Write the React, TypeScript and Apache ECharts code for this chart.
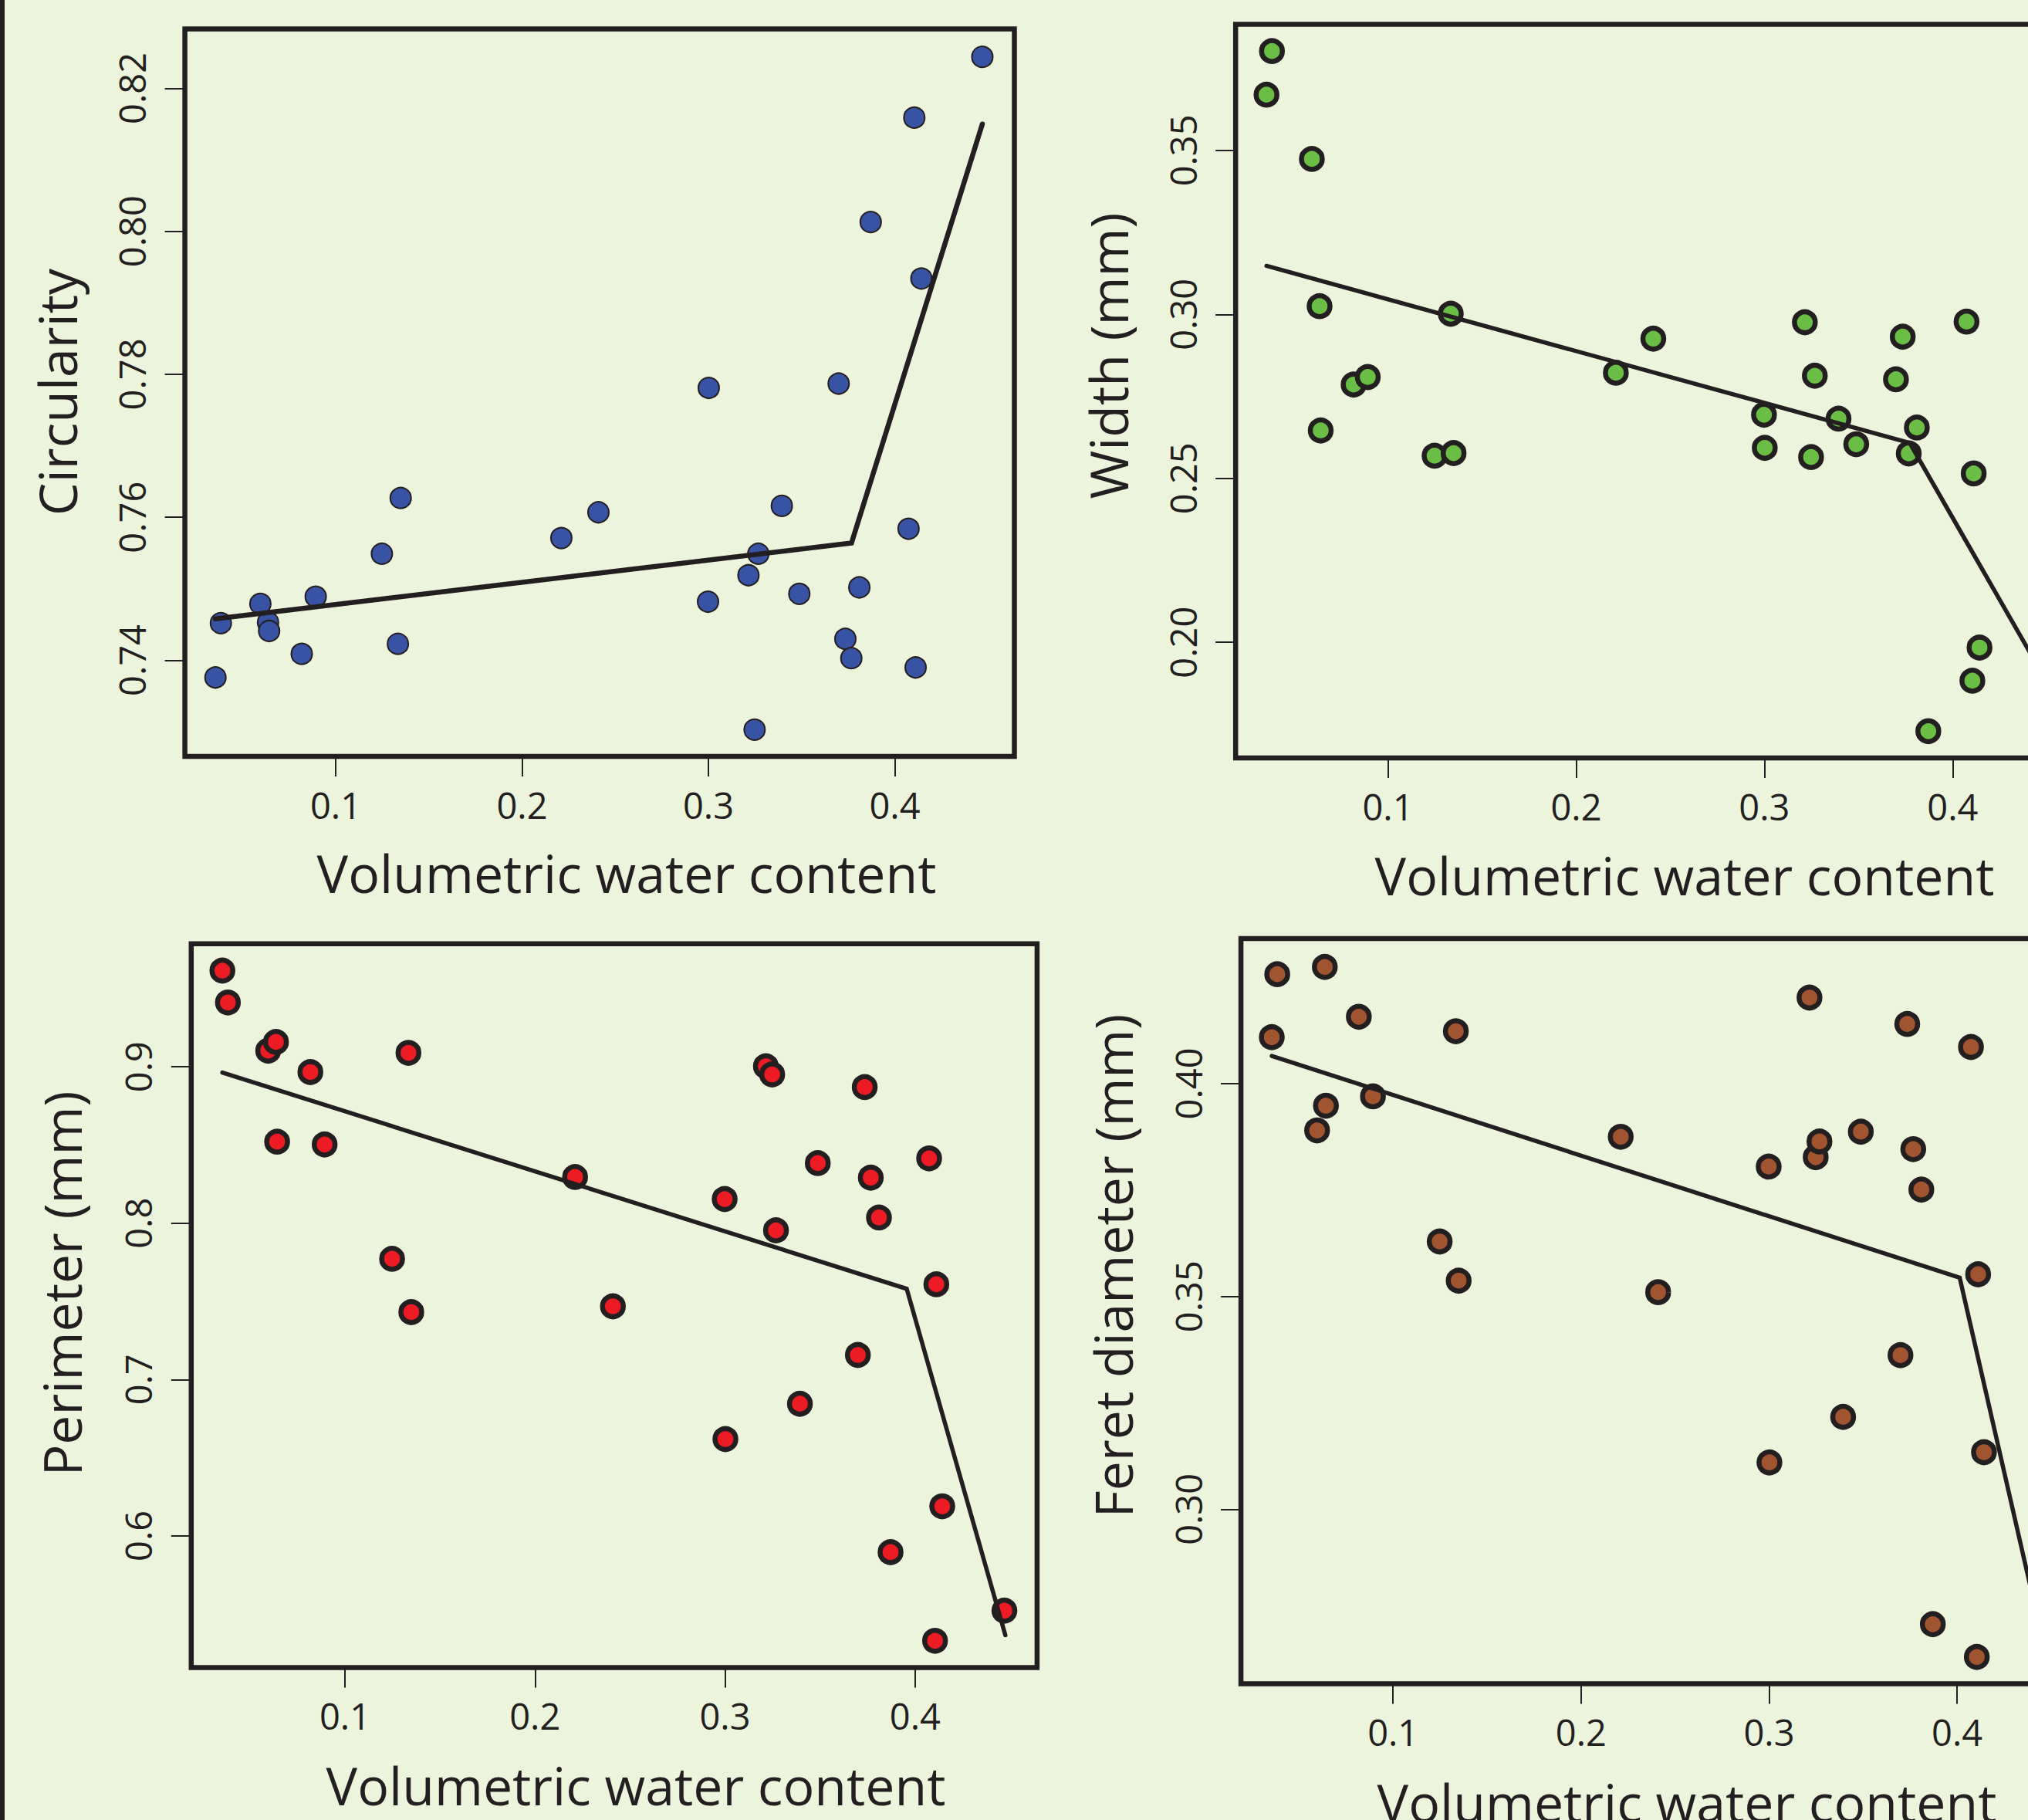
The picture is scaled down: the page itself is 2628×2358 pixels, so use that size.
import React, { useEffect, useRef } from "react";
import * as echarts from "echarts";

// ---------- data ----------
const waterContent = [
  0.0355, 0.0384, 0.0596, 0.0637, 0.0643, 0.0818, 0.0893, 0.1248, 0.1334, 0.1349,
  0.2211, 0.241, 0.2998, 0.3002, 0.3215, 0.3248, 0.3268, 0.3394, 0.3488, 0.3699,
  0.3735, 0.3767, 0.381, 0.3871, 0.4074, 0.4105, 0.4112, 0.4143, 0.447,
];
const circularity = [
  0.7376, 0.7452, 0.7479, 0.7453, 0.7441, 0.7409, 0.7489, 0.7549, 0.7423, 0.7627,
  0.7571, 0.7607, 0.7482, 0.7781, 0.7519, 0.7303, 0.7549, 0.7616, 0.7493, 0.7787,
  0.743, 0.7403, 0.7502, 0.8013, 0.7584, 0.8159, 0.739, 0.7934, 0.8244,
];
const widthMm = [
  0.367, 0.3803, 0.3474, 0.3025, 0.2646, 0.2786, 0.2809, 0.2569, 0.3002, 0.2577,
  0.2822, 0.2926, 0.2694, 0.2593, 0.2976, 0.2565, 0.2813, 0.2682, 0.2604, 0.2802,
  0.2932, 0.2576, 0.2655, 0.1729, 0.2978, 0.1883, 0.2515, 0.1984, 0.19,
];
const perimeterMm = [
  0.9615, 0.9411, 0.9103, 0.9159, 0.8521, 0.8966, 0.8503, 0.7772, 0.9089, 0.7431,
  0.8295, 0.7468, 0.8154, 0.6619, 0.9003, 0.8951, 0.7954, 0.6845, 0.8384, 0.7157,
  0.887, 0.8291, 0.8036, 0.5896, 0.8414, 0.5329, 0.7609, 0.6189, 0.5522,
];
const feretMm = [
  0.4109, 0.4257, 0.389, 0.4274, 0.3948, 0.4157, 0.397, 0.3629, 0.4123, 0.3537,
  0.3875, 0.351, 0.3805, 0.311, 0.4202, 0.3827, 0.3864, 0.3217, 0.3887, 0.3362,
  0.414, 0.3846, 0.3751, 0.273, 0.4086, 0.2653, 0.3552, 0.3134, 0.27,
];

// segmented regression fits (breakpoint lines)
const fitCircularityX = [0.0355, 0.3768, 0.447];
const fitCircularityY = [0.7458, 0.7564, 0.815];
const fitWidthX = [0.0355, 0.3772, 0.447];
const fitWidthY = [0.3148, 0.2608, 0.191];
const fitPerimeterX = [0.0355, 0.3956, 0.4475];
const fitPerimeterY = [0.8963, 0.758, 0.5365];
const fitFeretX = [0.0355, 0.4014, 0.447];
const fitFeretY = [0.4065, 0.3544, 0.2664];

// tick labels
const xTicks = [0.1, 0.2, 0.3, 0.4];
const circularityTicks = [0.74, 0.76, 0.78, 0.8, 0.82];
const widthTicks = [0.2, 0.25, 0.3, 0.35];
const perimeterTicks = [0.6, 0.7, 0.8, 0.9];
const feretTicks = [0.3, 0.35, 0.4];

const xTitle = "Volumetric water content";

// ---------- styles / layout ----------
const BG = "#ecf5dc";
const DARK = "#231f20";
const FONT = "'Open Sans', 'Noto Sans', sans-serif";
const X_MIN = 0.0191;
const X_MAX = 0.4642;

const PANELS = [
  {
    grid: { left: 239.6, top: 37.6, width: 1074.9, height: 942.4 },
    yMin: 0.72656, yMax: 0.82829, y: circularity, fitX: fitCircularityX, fitY: fitCircularityY,
    ticks: circularityTicks, dec: 2, fill: "#3953a4", border: 2, size: 27, lineW: 6.5,
    yName: "Circularity", xPos: [812, 1130], yPos: [73, 508],
  },
  {
    grid: { left: 1601.2, top: 31.6, width: 1085.7, height: 950.4 },
    yMin: 0.16474, yMax: 0.38843, y: widthMm, fitX: fitWidthX, fitY: fitWidthY,
    ticks: widthTicks, dec: 2, fill: "#6abd45", border: 6.5, size: 27, lineW: 5.5,
    yName: "Width (mm)", xPos: [2183, 1133], yPos: [1435, 461],
  },
  {
    grid: { left: 247.8, top: 1222.8, width: 1096.1, height: 937.7 },
    yMin: 0.5158, yMax: 0.97863, y: perimeterMm, fitX: fitPerimeterX, fitY: fitPerimeterY,
    ticks: perimeterTicks, dec: 1, fill: "#ed1c24", border: 6.5, size: 27, lineW: 5.5,
    yName: "Perimeter (mm)", xPos: [824, 2312], yPos: [79, 1663],
  },
  {
    grid: { left: 1608.1, top: 1216, width: 1084.4, height: 965.5 },
    yMin: 0.259, yMax: 0.43407, y: feretMm, fitX: fitFeretX, fitY: fitFeretY,
    ticks: feretTicks, dec: 2, fill: "#a15430", border: 6.5, size: 27, lineW: 5.5,
    yName: "Feret diameter (mm)", xPos: [2186, 2334], yPos: [1441, 1640],
  },
];

function buildOption() {
  const labelStyle = { fontSize: 47, fontFamily: FONT, color: DARK };
  const tickStyle = { color: DARK, width: 2 };
  const titleStyle = (text: string) => ({
    text,
    fontSize: 68,
    fontFamily: FONT,
    fill: DARK,
    align: "center",
    verticalAlign: "middle",
    textAlign: "center",
    textVerticalAlign: "middle",
  });

  const graphic: any[] = [
    { type: "rect", shape: { x: 0, y: 0, width: 6, height: 2358 }, style: { fill: DARK }, silent: true },
  ];
  PANELS.forEach((p) => {
    graphic.push({ type: "text", x: p.xPos[0], y: p.xPos[1], style: titleStyle(xTitle), silent: true });
    graphic.push({
      type: "text", x: p.yPos[0], y: p.yPos[1], rotation: Math.PI / 2,
      style: titleStyle(p.yName), silent: true,
    });
  });

  return {
    animation: false,
    backgroundColor: BG,
    grid: PANELS.map((p) => ({
      ...p.grid,
      show: true,
      borderColor: DARK,
      borderWidth: 6.5,
      backgroundColor: "transparent",
      containLabel: false,
      outerBoundsMode: "none",
    })),
    xAxis: PANELS.map((p, i) => ({
      type: "value",
      gridIndex: i,
      min: X_MIN,
      max: X_MAX,
      splitLine: { show: false },
      axisLine: { show: false },
      axisTick: { show: true, length: 26, lineStyle: tickStyle, customValues: xTicks },
      axisLabel: {
        ...labelStyle,
        margin: 39,
        customValues: xTicks,
        formatter: (v: number) => v.toFixed(1),
      },
    })),
    yAxis: PANELS.map((p, i) => ({
      type: "value",
      gridIndex: i,
      min: p.yMin,
      max: p.yMax,
      splitLine: { show: false },
      axisLine: { show: false },
      axisTick: { show: true, length: 26, lineStyle: tickStyle, customValues: p.ticks },
      axisLabel: {
        ...labelStyle,
        rotate: 90,
        margin: 45,
        customValues: p.ticks,
        formatter: (v: number) => v.toFixed(p.dec),
      },
    })),
    series: PANELS.flatMap((p, i) => [
      {
        type: "scatter",
        xAxisIndex: i,
        yAxisIndex: i,
        data: waterContent.map((x, j) => [x, p.y[j]]),
        symbol: "circle",
        symbolSize: p.size,
        itemStyle: { color: p.fill, borderColor: DARK, borderWidth: p.border, opacity: 1 },
        z: 2,
        silent: true,
      },
      {
        type: "line",
        xAxisIndex: i,
        yAxisIndex: i,
        data: p.fitX.map((x, j) => [x, p.fitY[j]]),
        symbol: "none",
        showSymbol: false,
        lineStyle: { color: DARK, width: p.lineW, cap: "round", join: "miter" },
        z: 3,
        silent: true,
      },
    ]),
    graphic,
  };
}

export default function App() {
  const ref = useRef<HTMLDivElement>(null);
  useEffect(() => {
    document.documentElement.style.overflow = "hidden";
    document.body.style.margin = "0";
    if (!ref.current) return;
    const chart = echarts.init(ref.current, undefined, { renderer: "svg" });
    chart.setOption(buildOption() as any);
    return () => chart.dispose();
  }, []);
  return (
    <div
      ref={ref}
      style={{ position: "absolute", left: 0, top: 0, width: 2628, height: 2358, background: BG }}
    />
  );
}
